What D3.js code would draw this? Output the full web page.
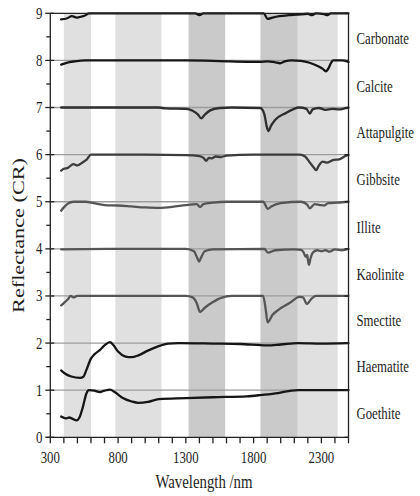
<!DOCTYPE html>
<html>
<head>
<meta charset="utf-8">
<script src="https://cdn.jsdelivr.net/npm/d3@7"></script>
<style>
html,body{margin:0;padding:0;background:#fff;}
svg{display:block;}
text{font-family:"Liberation Serif","Times New Roman","DejaVu Serif",serif;fill:#1e1e1e;}
</style>
</head>
<body>
<svg id="chart" width="420" height="496" font-family="'Liberation Serif','Times New Roman','DejaVu Serif',serif"></svg>
<script>
// ---------- data ----------
const minerals = ["Carbonate","Calcite","Attapulgite","Gibbsite","Illite","Kaolinite","Smectite","Haematite","Goethite"];
const labelLevels = [8.47,7.45,6.46,5.46,4.45,3.46,2.48,1.5,0.51];
const xTicks = [300,800,1300,1800,2300];
const yTicks = [0,1,2,3,4,5,6,7,8,9];
const gridLevels = [1,2,3,4,5,6,7,8];
// shaded absorption windows [start, end] in nm
const lightBands = [[400,600],[780,1120],[2125,2420]];
const darkBands = [[1320,1590],[1850,2125]];

const carbonate = [[380,8.87],[420,8.89],[460,8.94],[495,8.91],[530,8.93],[560,8.96],[585,9.0],[1000,9.0],[1370,9.0],[1400,8.96],[1430,9.0],[1875,9.0],[1903,8.88],[1940,8.91],[1990,8.94],[2060,8.96],[2116,8.97],[2200,8.99],[2230,8.96],[2260,9.0],[2320,8.98],[2345,8.96],[2370,9.0],[2500,9.0]];
const calcite = [[380,7.91],[420,7.95],[480,7.98],[560,8.0],[1000,8.0],[1300,8.0],[1500,7.99],[1600,7.98],[1750,7.97],[1850,7.97],[1900,7.98],[1960,7.96],[1995,7.94],[2030,7.98],[2080,8.0],[2150,7.99],[2213,7.95],[2280,7.87],[2310,7.82],[2333,7.77],[2350,7.82],[2370,7.94],[2385,8.0],[2450,8.0],[2500,7.97]];
const attapulgite = [[380,7.0],[1100,7.0],[1150,6.98],[1300,6.97],[1350,6.93],[1390,6.85],[1413,6.77],[1440,6.85],[1480,6.94],[1550,6.99],[1640,7.0],[1850,6.99],[1880,6.85],[1895,6.62],[1908,6.5],[1930,6.62],[1960,6.74],[2035,6.88],[2090,6.96],[2135,7.0],[2190,6.97],[2215,6.87],[2235,6.96],[2280,6.99],[2330,6.95],[2380,6.97],[2430,6.96],[2470,6.98],[2500,7.0]];
const gibbsite = [[380,5.66],[400,5.7],[430,5.72],[470,5.8],[500,5.77],[540,5.84],[570,5.9],[600,6.0],[1000,6.0],[1300,5.99],[1400,5.97],[1430,5.93],[1450,5.87],[1470,5.93],[1490,5.92],[1520,5.96],[1560,5.95],[1600,5.98],[1800,6.0],[2140,6.0],[2180,5.96],[2213,5.84],[2245,5.72],[2262,5.67],[2280,5.76],[2310,5.85],[2340,5.83],[2390,5.89],[2430,5.9],[2470,5.96],[2500,6.0]];
const illite = [[380,4.81],[400,4.88],[430,4.96],[470,5.0],[560,5.0],[620,4.97],[700,4.93],[800,4.92],[900,4.9],[1000,4.88],[1100,4.87],[1200,4.89],[1300,4.93],[1380,4.95],[1405,4.89],[1430,4.95],[1500,4.98],[1600,5.0],[1870,5.0],[1905,4.85],[1930,4.9],[2000,4.97],[2150,5.0],[2195,4.94],[2213,4.86],[2250,4.95],[2290,4.93],[2320,4.92],[2350,4.97],[2420,4.98],[2500,5.0]];
const kaolinite = [[380,3.99],[800,4.0],[1300,4.0],[1360,3.95],[1385,3.8],[1398,3.73],[1410,3.8],[1440,3.95],[1500,3.99],[1880,4.0],[1905,3.92],[1960,3.97],[2100,3.99],[2150,3.98],[2168,3.93],[2185,3.83],[2195,3.87],[2200,3.78],[2208,3.66],[2220,3.8],[2240,3.93],[2270,3.97],[2300,3.95],[2330,3.97],[2360,3.94],[2400,3.99],[2450,3.97],[2500,4.0]];
const smectite = [[380,2.8],[400,2.85],[430,2.93],[450,3.0],[470,2.97],[500,3.0],[1300,3.0],[1350,2.97],[1380,2.85],[1405,2.66],[1440,2.75],[1500,2.87],[1560,2.96],[1640,3.0],[1870,3.0],[1890,2.7],[1903,2.44],[1940,2.6],[1980,2.7],[2065,2.85],[2138,2.98],[2165,2.97],[2192,2.83],[2230,2.95],[2260,3.0],[2500,3.0]];
const haematite = [[380,1.42],[405,1.36],[455,1.29],[520,1.26],[545,1.29],[565,1.42],[600,1.67],[625,1.76],[665,1.85],[700,1.95],[740,2.02],[765,1.96],[800,1.82],[850,1.72],[900,1.7],[950,1.74],[1020,1.84],[1095,1.93],[1170,1.99],[1250,2.0],[1500,1.99],[1700,1.98],[1900,1.95],[2000,1.97],[2130,2.0],[2300,1.99],[2500,2.0]];
const goethite = [[380,0.44],[415,0.4],[440,0.42],[465,0.39],[495,0.36],[515,0.42],[540,0.64],[565,0.92],[585,1.0],[625,0.99],[665,0.96],[700,0.99],[740,1.01],[775,0.96],[825,0.85],[900,0.76],[950,0.73],[1020,0.75],[1100,0.81],[1300,0.83],[1500,0.85],[1750,0.87],[1860,0.9],[1980,0.94],[2080,0.99],[2130,1.0],[2300,1.0],[2500,1.0]];

const spectra = [carbonate,calcite,attapulgite,gibbsite,illite,kaolinite,smectite,haematite,goethite];
const lineColors = ["#151515","#151515","#2e2e2e","#3c3c3c","#555555","#555555","#555555","#151515","#151515"];

// ---------- layout ----------
const svg = d3.select("#chart");
const x = d3.scaleLinear().domain([300,2500]).range([50.3,348.5]);
const y = d3.scaleLinear().domain([0,9]).range([437.3,13.3]);
const SX = 0.8; // horizontal squeeze of glyphs in the reference
const FF = "'Liberation Serif','Times New Roman','DejaVu Serif',serif";

// bands
const gB = svg.append("g");
gB.selectAll("rect.l").data(lightBands).join("rect")
  .attr("x", d => x(d[0])).attr("width", d => x(d[1]) - x(d[0]))
  .attr("y", y(9)).attr("height", y(0) - y(9)).attr("fill", "#e0e0e0");
gB.selectAll("rect.d").data(darkBands).join("rect")
  .attr("x", d => x(d[0])).attr("width", d => x(d[1]) - x(d[0]))
  .attr("y", y(9)).attr("height", y(0) - y(9)).attr("fill", "#cacaca");

// gridlines
svg.append("g").selectAll("line").data(gridLevels).join("line")
  .attr("x1", x(300)).attr("x2", x(2500))
  .attr("y1", d => y(d)).attr("y2", d => y(d))
  .attr("stroke", "#9c9c9c").attr("stroke-width", 1.3);

// spectra
const line = d3.line().x(d => x(d[0])).y(d => y(d[1])).curve(d3.curveMonotoneX);
svg.append("g").selectAll("path").data(spectra).join("path")
  .attr("d", line).attr("fill", "none")
  .attr("stroke", (d,i) => lineColors[i]).attr("stroke-width", 2.3)
  .attr("stroke-linejoin", "round").attr("stroke-linecap", "round");

// frame
const ax = svg.append("g").attr("stroke", "#222").attr("stroke-width", 1.3);
ax.append("line").attr("x1", x(300)).attr("x2", x(2500)).attr("y1", y(9)).attr("y2", y(9));
ax.append("line").attr("x1", x(2500)).attr("x2", x(2500)).attr("y1", y(9)).attr("y2", y(0));
ax.append("line").attr("x1", x(300)).attr("x2", x(300)).attr("y1", y(9)).attr("y2", y(0));
ax.append("line").attr("x1", x(300) - 4).attr("x2", x(2500)).attr("y1", y(0)).attr("y2", y(0));

// y ticks (major and half-unit minor)
ax.selectAll("line.ym").data(yTicks).join("line")
  .attr("x1", x(300) - 5).attr("x2", x(300) + 4)
  .attr("y1", d => y(d)).attr("y2", d => y(d));
ax.selectAll("line.yn").data(d3.range(0.5, 9, 1)).join("line")
  .attr("x1", x(300) - 4).attr("x2", x(300))
  .attr("y1", d => y(d)).attr("y2", d => y(d));
ax.selectAll("line.yr").data(yTicks).join("line")
  .attr("x1", x(2500) - 4).attr("x2", x(2500))
  .attr("y1", d => y(d)).attr("y2", d => y(d));
// x ticks every 100 nm
ax.selectAll("line.xt").data(d3.range(300, 2501, 100)).join("line")
  .attr("x1", d => x(d)).attr("x2", d => x(d))
  .attr("y1", y(0)).attr("y2", y(0) + 6);

// tick labels
svg.append("g").selectAll("text").data(yTicks).join("text")
  .attr("font-family", FF)
  .attr("transform", d => `translate(${x(300) - 8},${y(d) + 5.5}) scale(${SX},1)`)
  .attr("text-anchor", "end").attr("font-size", 16).text(d => d);
svg.append("g").selectAll("text").data(xTicks).join("text")
  .attr("font-family", FF)
  .attr("transform", d => `translate(${x(d)},${y(0) + 26}) scale(${SX},1)`)
  .attr("text-anchor", "middle").attr("font-size", 16).text(d => d);

// mineral labels
svg.append("g").selectAll("text").data(minerals).join("text")
  .attr("font-family", FF)
  .attr("transform", (d,i) => `translate(356.5,${y(labelLevels[i]) + 5.3}) scale(${SX},1)`)
  .attr("font-size", 16).text(d => d);

// axis titles
svg.append("text").attr("font-family", FF)
  .attr("transform", `translate(204,488) scale(${SX},1)`)
  .attr("text-anchor", "middle").attr("font-size", 18.5).text("Wavelength /nm");
svg.append("text").attr("font-family", FF)
  .attr("transform", "translate(24,235.5) scale(1,1.27) rotate(-90)")
  .attr("text-anchor", "middle").attr("font-size", 17.5).text("Reflectance (CR)");
</script>
</body>
</html>
